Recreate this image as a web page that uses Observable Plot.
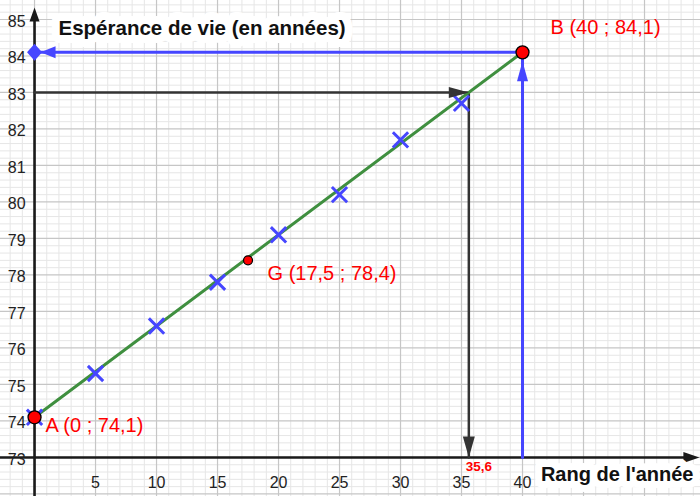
<!DOCTYPE html>
<html>
<head>
<meta charset="utf-8">
<script src="https://cdn.jsdelivr.net/npm/d3@7"></script>
<script src="https://cdn.jsdelivr.net/npm/@observablehq/plot@0.6"></script>
<style>
  body { margin: 0; background: #fff; }
  #chart svg { display: block; }
</style>
</head>
<body>
<div id="chart"></div>
<script>
// ---- data ----
const years = [0, 5, 10, 15, 20, 25, 30, 35];
const lifeExpectancy = [74.1, 75.3, 76.6, 77.8, 79.1, 80.2, 81.7, 82.7];
const pointNames = ["A", "B", "G"];
const pointX = [0, 40, 17.5];
const pointY = [74.1, 84.1, 78.4];
const pointLabels = ["A (0 ; 74,1)", "B (40 ; 84,1)", "G (17,5 ; 78,4)"];
const readX = 35.6;
const readY = 83;
const readLabel = "35,6";
const xTickValues = [5, 10, 15, 20, 25, 30, 35, 40];
const yTickValues = [73, 74, 75, 76, 77, 78, 79, 80, 81, 82, 83, 84, 85];
const yTitle = "Espérance de vie (en années)";
const xTitle = "Rang de l'année";

// ---- view window (graph-paper style) ----
const xView = [-2.79, 54.59];
const yView = [71.93, 85.52];
const xAxisEnd = 54.5;
const yAxisEnd = 85.33;

const samples = years.map((x, i) => ({x, y: lifeExpectancy[i]}));
const pts = pointNames.map((n, i) => ({name: n, x: pointX[i], y: pointY[i], label: pointLabels[i]}));
const A = pts[0], B = pts[1], G = pts[2];

const minorX = d3.range(-2, 55, 1).filter(v => v % 5 !== 0);
const majorX = d3.range(0, 55, 5);
const minorY = d3.range(72, 85.6, 0.2).map(v => +v.toFixed(1)).filter(v => Math.abs(v - Math.round(v)) > 1e-6);
const majorY = d3.range(72, 86, 1);

function arrowHead(len, hw) {
  return {draw(ctx) { ctx.moveTo(0, 0); ctx.lineTo(-hw, len); ctx.lineTo(hw, len); ctx.closePath(); }};
}
const diamond = {draw(ctx) { ctx.moveTo(0, -8.5); ctx.lineTo(7.5, 0); ctx.lineTo(0, 8.5); ctx.lineTo(-7.5, 0); ctx.closePath(); }};

const BLUE = "#4646ff";
const DARK = "#333333";
const GREEN = "#3f8f3f";
const RED = "#ff0000";
const FONT = "'Liberation Sans', Arial, sans-serif";

const chart = Plot.plot({
  width: 700,
  height: 496,
  margin: 0,
  x: {domain: xView, axis: null},
  y: {domain: yView, axis: null},
  style: {fontFamily: FONT, fontSize: "15px", background: "#fff"},
  marks: [
    // grid
    Plot.ruleX(minorX, {stroke: "#e6e6e6", strokeWidth: 1}),
    Plot.ruleY(minorY, {stroke: "#e6e6e6", strokeWidth: 1}),
    Plot.ruleX(majorX, {stroke: "#c6c6c6", strokeWidth: 1.2}),
    Plot.ruleY(majorY, {stroke: "#c6c6c6", strokeWidth: 1.2}),
    // axes
    Plot.ruleY([73], {x1: xView[0], x2: xAxisEnd - 0.8, stroke: "#1a1a1a", strokeWidth: 2.6}),
    Plot.ruleX([0], {y1: yView[0], y2: yAxisEnd - 0.2, stroke: "#1a1a1a", strokeWidth: 2.6}),
    Plot.dot([{x: xAxisEnd, y: 73}], {x: "x", y: "y", symbol: arrowHead(16, 5.5), rotate: 90, fill: "#1a1a1a", stroke: "none"}),
    Plot.dot([{x: 0, y: yAxisEnd}], {x: "x", y: "y", symbol: arrowHead(14, 5), rotate: 0, fill: "#1a1a1a", stroke: "none"}),
    // blue reading of B
    Plot.line([{x: B.x, y: 73}, {x: B.x, y: B.y}, {x: 0, y: B.y}], {x: "x", y: "y", stroke: BLUE, strokeWidth: 3}),
    // black reading of 83
    Plot.line([{x: 0, y: readY}, {x: readX, y: readY}, {x: readX, y: 73}], {x: "x", y: "y", stroke: DARK, strokeWidth: 2.5}),
    // regression line A-B
    Plot.line([A, B], {x: "x", y: "y", stroke: GREEN, strokeWidth: 3}),
    // sample crosses
    Plot.dot(samples, {x: "x", y: "y", symbol: "times", r: 7, stroke: BLUE, strokeWidth: 3}),
    // arrowheads
    Plot.dot([{x: readX, y: readY}], {x: "x", y: "y", symbol: arrowHead(20, 5.5), rotate: 90, fill: DARK, stroke: "none"}),
    Plot.dot([{x: readX, y: 73}], {x: "x", y: "y", symbol: arrowHead(21, 6), rotate: 180, fill: DARK, stroke: "none"}),
    Plot.dot([B], {x: "x", y: "y", dy: 9, symbol: arrowHead(20, 5.5), rotate: 0, fill: BLUE, stroke: "none"}),
    Plot.dot([{x: 0, y: B.y}], {x: "x", y: "y", dx: 6, symbol: arrowHead(15, 6), rotate: 270, fill: BLUE, stroke: "none"}),
    Plot.dot([{x: 0, y: B.y}], {x: "x", y: "y", symbol: diamond, fill: BLUE, stroke: "none"}),
    // red points
    Plot.dot([A, B], {x: "x", y: "y", r: 6.5, fill: RED, stroke: "#000", strokeWidth: 1.3}),
    Plot.dot([G], {x: "x", y: "y", r: 4.5, fill: RED, stroke: "#000", strokeWidth: 1.2}),
    // tick labels
    Plot.text(yTickValues, {x: 0, y: d => d, text: d => String(d), dx: -9, dy: 2, textAnchor: "end", fill: "#222", fontSize: 16}),
    Plot.text(xTickValues, {x: d => d, y: 73, text: d => String(d), dy: 25, textAnchor: "middle", fill: "#222", fontSize: 16}),
    // point labels
    Plot.text([A], {x: "x", y: "y", text: "label", dx: 11, dy: 8, textAnchor: "start", fill: RED, fontSize: 20}),
    Plot.text([B], {x: "x", y: "y", text: "label", dx: 28, dy: -24.5, textAnchor: "start", fill: RED, fontSize: 20}),
    Plot.text([G], {x: "x", y: "y", text: "label", dx: 19.5, dy: 13.5, textAnchor: "start", fill: RED, fontSize: 20}),
    Plot.text([readLabel], {x: readX, y: 73, text: d => d, dx: 10, dy: 9, textAnchor: "middle", fill: RED, fontSize: 13.5, fontWeight: "bold"}),
    // axis titles
    Plot.text([yTitle], {frameAnchor: "top-left", text: d => d, dx: 58, dy: 19.5, textAnchor: "start", fill: "#111", fontSize: 20.5, fontWeight: "bold", stroke: "#fff", strokeWidth: 16, strokeLinejoin: "round"}),
    Plot.text([xTitle], {frameAnchor: "bottom-right", text: d => d, dx: -7, dy: -16, textAnchor: "end", fill: "#111", fontSize: 20, fontWeight: "bold", stroke: "#fff", strokeWidth: 14, strokeLinejoin: "round"})
  ]
});
document.getElementById("chart").append(chart);
</script>
</body>
</html>
